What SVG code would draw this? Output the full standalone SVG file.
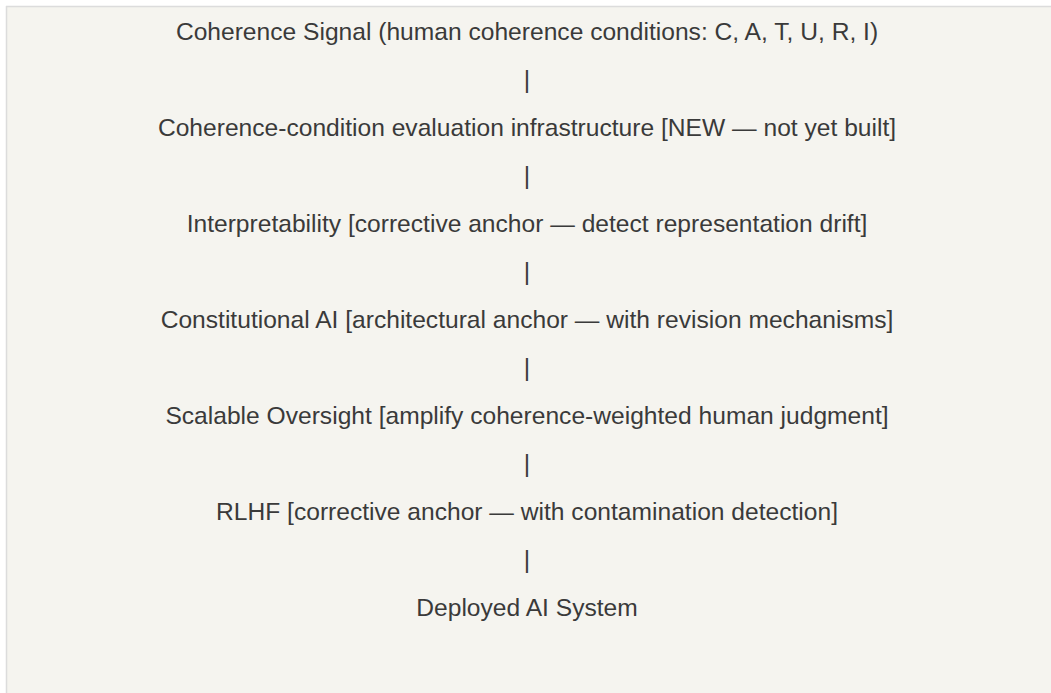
<svg xmlns="http://www.w3.org/2000/svg" width="1051" height="693" viewBox="0 0 1051 693">
<style>
.t{font-family:"Liberation Sans",Arial,sans-serif;font-size:24.6px;fill:#3a3a3a;text-anchor:middle}
</style>
<rect x="0" y="0" width="1051" height="693" fill="#ffffff"/>
<rect x="6" y="6" width="1045" height="687" fill="#f5f4ef"/>
<line x1="6" y1="6.5" x2="1051" y2="6.5" stroke="#dcdcdc" stroke-width="1.5"/>
<line x1="6.5" y1="6" x2="6.5" y2="693" stroke="#dcdcdc" stroke-width="1.5"/>
<g id="node-signal"><text class="t" x="527" y="39.5">Coherence Signal (human coherence conditions: C, A, T, U, R, I)</text></g>
<g id="node-eval"><text class="t" x="527" y="135.5">Coherence-condition evaluation infrastructure [NEW — not yet built]</text></g>
<g id="node-interp"><text class="t" x="527" y="231.5">Interpretability [corrective anchor — detect representation drift]</text></g>
<g id="node-cai"><text class="t" x="527" y="327.5">Constitutional AI [architectural anchor — with revision mechanisms]</text></g>
<g id="node-oversight"><text class="t" x="527" y="423.5">Scalable Oversight [amplify coherence-weighted human judgment]</text></g>
<g id="node-rlhf"><text class="t" x="527" y="519.5">RLHF [corrective anchor — with contamination detection]</text></g>
<g id="node-deployed"><text class="t" x="527" y="615.5">Deployed AI System</text></g>
<g id="connectors">
<text class="t" x="527" y="87.5">|</text>
<text class="t" x="527" y="183.5">|</text>
<text class="t" x="527" y="279.5">|</text>
<text class="t" x="527" y="375.5">|</text>
<text class="t" x="527" y="471.5">|</text>
<text class="t" x="527" y="567.5">|</text>
</g>
</svg>
